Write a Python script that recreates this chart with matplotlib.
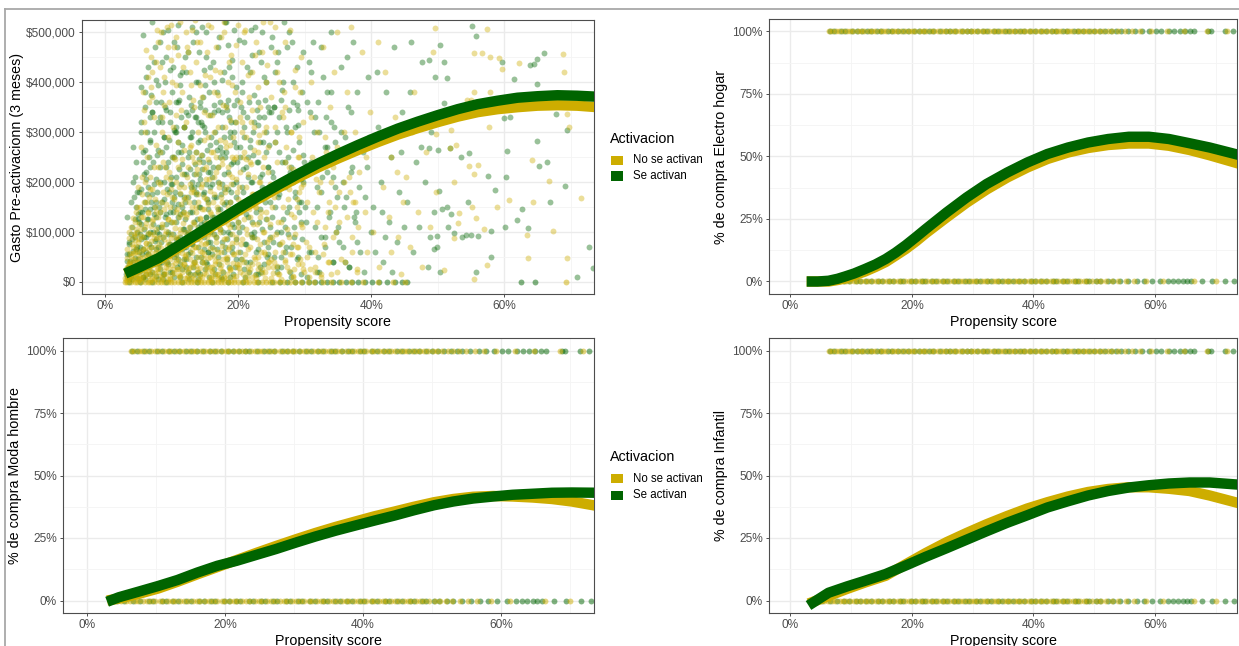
"""Propensity score vs. pre-activation spend and purchase rates, by activation group."""

import matplotlib

matplotlib.use("Agg")
import matplotlib.pyplot as plt
from matplotlib.lines import Line2D
from matplotlib.patches import Rectangle
from matplotlib.ticker import FuncFormatter, MultipleLocator

plt.rcParams["font.family"] = ["Liberation Sans", "DejaVu Sans"]

W, H = 1239, 646
YELLOW = "#CDAD00"
GREEN = "#006400"
GROUPS = ["No se activan", "Se activan"]

# ---- panel 1: gasto pre-activacion (x = propensity %, y = miles de $) ----
gasto_no = [
    (3.1, 4), (3.3, 18), (3.5, 9), (3.6, 35), (3.8, 22), (3.9, 52), (4.0, 11), (4.1, 70), (4.2, 30), (4.3, 95),
    (4.4, 6), (4.5, 44), (4.5, 120), (4.6, 15), (4.7, 62), (4.8, 28), (4.8, 150), (4.9, 80), (5.0, 3), (4.2, 58),
    (3.7, 40), (4.6, 105), (3.4, 27), (4.9, 190), (4.4, 83),
    (5.1, 14), (5.2, 48), (5.3, 92), (5.4, 130), (5.5, 7), (5.5, 210), (5.6, 35), (5.7, 65), (5.8, 160), (5.9, 22),
    (6.0, 300), (6.0, 110), (6.1, 42), (6.2, 78), (6.3, 250), (6.4, 12), (6.4, 140), (6.5, 55), (6.6, 360), (6.7, 95),
    (6.8, 28), (6.8, 185), (6.9, 70), (7.0, 420), (7.0, 122), (7.1, 8), (7.2, 50), (7.3, 230), (7.3, 88), (7.4, 330),
    (7.5, 18), (7.5, 150), (7.6, 60), (7.7, 275), (7.7, 105), (7.8, 38), (7.9, 480), (7.9, 200), (5.6, 380), (6.2, 465),
    (5.3, 270), (6.9, 390), (7.6, 440), (5.8, 320), (6.6, 170),
    (8.0, 20), (8.1, 75), (8.2, 140), (8.3, 260), (8.3, 45), (8.4, 500), (8.5, 110), (8.6, 10), (8.6, 330), (8.7, 180),
    (8.8, 62), (8.9, 410), (9.0, 95), (9.0, 230), (9.1, 30), (9.2, 155), (9.3, 510), (9.3, 72), (9.4, 290), (9.5, 5),
    (9.5, 125), (9.6, 360), (9.7, 52), (9.8, 205), (9.9, 445), (9.9, 88), (10.0, 16), (10.1, 170), (10.2, 310), (10.2, 60),
    (10.3, 120), (10.4, 470), (10.5, 38), (10.5, 245), (10.6, 90), (10.7, 395), (10.8, 145), (10.9, 25), (10.9, 280), (11.0, 68),
    (11.1, 190), (11.2, 520), (11.2, 105), (11.3, 12), (11.4, 345), (11.5, 57), (11.5, 215), (11.6, 135), (11.7, 430), (11.8, 80),
    (11.8, 265), (11.9, 35), (11.9, 165), (8.7, 380), (10.6, 490),
    (12.0, 48), (12.1, 130), (12.2, 320), (12.3, 8), (12.3, 210), (12.4, 85), (12.5, 460), (12.6, 160), (12.6, 28), (12.7, 270),
    (12.8, 100), (12.9, 395), (13.0, 58), (13.0, 185), (13.1, 505), (13.2, 14), (13.3, 240), (13.3, 115), (13.4, 350), (13.5, 70),
    (13.6, 150), (13.7, 440), (13.7, 32), (13.8, 225), (13.9, 92), (14.0, 300), (14.0, 175), (14.1, 5), (14.2, 125), (14.3, 480),
    (14.3, 62), (14.4, 255), (14.5, 195), (14.6, 40), (14.6, 370), (14.7, 108), (14.8, 285), (14.9, 18), (14.9, 145), (15.0, 415),
    (15.1, 78), (15.2, 230), (15.2, 165), (15.3, 25), (15.4, 335), (15.5, 95), (15.5, 515), (15.6, 205), (15.7, 50), (15.8, 140),
    (15.8, 410), (15.9, 260), (15.9, 10), (12.9, 180), (14.4, 75),
    (16.0, 30), (16.1, 120), (16.2, 260), (16.3, 65), (16.3, 380), (16.4, 175), (16.5, 12), (16.6, 220), (16.7, 90), (16.7, 470),
    (16.8, 150), (16.9, 42), (17.0, 310), (17.1, 198), (17.2, 8), (17.2, 105), (17.3, 420), (17.4, 60), (17.5, 245), (17.6, 160),
    (17.6, 22), (17.7, 355), (17.8, 85), (17.9, 500), (18.0, 135), (18.0, 280), (18.1, 48), (18.2, 190), (18.3, 15), (18.4, 400),
    (18.4, 115), (18.5, 230), (18.6, 70), (18.7, 325), (18.8, 160), (18.8, 28), (18.9, 455), (19.0, 95), (19.1, 210), (19.2, 55),
    (19.2, 290), (19.3, 140), (19.4, 5), (19.5, 380), (19.6, 80), (19.7, 250), (19.8, 180), (19.8, 35), (19.9, 515), (19.9, 120),
    (20.0, 60), (20.1, 190), (20.2, 330), (20.3, 20), (20.4, 140), (20.5, 440), (20.6, 85), (20.7, 250), (20.8, 40), (20.9, 160),
    (21.0, 505), (21.1, 105), (21.2, 290), (21.3, 10), (21.4, 215), (21.5, 65), (21.6, 370), (21.7, 130), (21.8, 25), (21.9, 235),
    (22.0, 420), (22.1, 90), (22.2, 175), (22.3, 50), (22.4, 310), (22.5, 150), (22.6, 8), (22.7, 480), (22.8, 115), (22.9, 260),
    (23.0, 35), (23.1, 200), (23.2, 350), (23.3, 75), (23.4, 140), (23.5, 460), (23.6, 18), (23.7, 230), (23.8, 100), (23.9, 300),
    (24.0, 55), (24.1, 170), (24.2, 400), (24.3, 125), (24.4, 30), (24.5, 270), (24.6, 85), (24.7, 195), (24.8, 520), (24.9, 45),
    (25.1, 150), (25.3, 40), (25.5, 280), (25.7, 95), (25.9, 420), (26.0, 15), (26.2, 200), (26.4, 120), (26.6, 340), (26.8, 60),
    (27.0, 240), (27.1, 480), (27.3, 30), (27.5, 165), (27.7, 90), (27.9, 300), (28.0, 210), (28.2, 10), (28.4, 130), (28.6, 390),
    (28.8, 70), (29.0, 250), (29.1, 180), (29.3, 45), (29.5, 450), (29.6, 110), (29.8, 320), (29.9, 20), (25.6, 510), (26.9, 380),
    (28.1, 55), (28.9, 150), (27.6, 230), (26.3, 75), (29.4, 190),
    (30.2, 80), (30.5, 230), (30.8, 25), (31.0, 400), (31.3, 140), (31.6, 60), (31.9, 300), (32.1, 180), (32.4, 10), (32.7, 470),
    (33.0, 110), (33.2, 260), (33.5, 40), (33.8, 350), (34.0, 200), (34.3, 90), (34.6, 150), (34.9, 500), (30.9, 330), (31.7, 205),
    (32.9, 75), (33.6, 160), (34.4, 420), (30.4, 50), (34.8, 270),
    (35.2, 120), (35.6, 260), (36.0, 40), (36.4, 380), (36.8, 180), (37.1, 90), (37.5, 300), (37.9, 20), (38.2, 220), (38.6, 460),
    (39.0, 140), (39.4, 60), (39.8, 340), (35.9, 200), (36.9, 510), (38.0, 110), (39.2, 250), (37.3, 160),
    (40.3, 100), (40.8, 280), (41.2, 30), (41.7, 190), (42.1, 420), (42.6, 130), (43.0, 60), (43.5, 330), (43.9, 220), (44.4, 15),
    (44.8, 160), (41.0, 480), (42.9, 250), (44.0, 90),
    (45.3, 210), (45.9, 70), (46.5, 380), (47.0, 140), (47.6, 30), (48.2, 260), (48.8, 110), (49.3, 460), (49.8, 180), (46.2, 300),
    (49.6, 509), (57.4, 506), (55.5, 458), (56.7, 458), (57.8, 451), (59.2, 448), (59.6, 426), (62.2, 438), (68.9, 457), (69.0, 420),
    (69.8, 311), (69.5, 336), (55.4, 380), (57.8, 380), (55.0, 364), (54.4, 364), (57.7, 311), (52.0, 304), (49.7, 297), (52.7, 274),
    (51.9, 269), (64.2, 244), (56.0, 233), (54.7, 231), (55.5, 215), (52.5, 200), (66.7, 202), (71.6, 168), (64.4, 160), (60.7, 164),
    (58.9, 149), (55.2, 149), (55.7, 127), (56.9, 105), (53.0, 117), (53.2, 137), (67.4, 102), (63.4, 94), (52.5, 87), (63.5, 47),
    (69.4, 48), (57.4, 33), (51.0, 23), (55.4, 5),
]
# nucleo denso de gasto bajo, "No se activan"
nucleo_no = [
    (3.0, 8), (3.1, 25), (3.2, 47), (3.2, 14), (3.3, 66), (3.4, 5), (3.5, 38), (3.5, 88), (3.6, 20), (3.7, 57),
    (3.8, 110), (3.8, 3), (3.9, 32), (4.0, 75), (4.1, 16), (4.1, 128), (4.2, 45), (4.3, 92), (4.3, 9), (4.4, 60),
    (4.5, 26), (4.6, 140), (4.6, 72), (4.7, 36), (4.8, 12), (4.8, 98), (4.9, 54), (5.0, 115), (4.0, 35), (3.6, 100),
    (5.0, 40), (5.1, 85), (5.1, 6), (5.2, 150), (5.3, 28), (5.3, 62), (5.4, 105), (5.5, 18), (5.5, 175), (5.6, 50),
    (5.7, 90), (5.7, 130), (5.8, 9), (5.9, 68), (5.9, 200), (6.0, 33), (6.1, 118), (6.1, 78), (6.2, 15), (6.3, 52),
    (6.3, 160), (6.4, 98), (6.5, 24), (6.5, 138), (6.6, 66), (6.7, 4), (6.7, 210), (6.8, 44), (6.9, 112), (6.9, 82),
    (7.0, 20), (7.1, 57), (7.1, 185), (7.2, 125), (7.3, 36), (7.3, 96), (7.4, 10), (7.5, 70), (7.5, 165), (7.6, 48),
    (7.7, 140), (7.8, 26), (7.8, 88), (7.9, 60), (7.9, 230),
    (8.0, 45), (8.0, 130), (8.1, 12), (8.2, 90), (8.2, 195), (8.3, 30), (8.4, 68), (8.4, 160), (8.5, 5), (8.6, 115),
    (8.6, 52), (8.7, 240), (8.8, 22), (8.8, 85), (8.9, 145), (9.0, 38), (9.1, 102), (9.1, 210), (9.2, 15), (9.3, 58),
    (9.3, 175), (9.4, 125), (9.5, 80), (9.5, 28), (9.6, 220), (9.7, 46), (9.7, 150), (9.8, 8), (9.9, 95), (9.9, 185),
    (10.0, 62), (10.1, 120), (10.1, 33), (10.2, 250), (10.3, 75), (10.3, 165), (10.4, 18), (10.5, 108), (10.6, 50), (10.6, 200),
    (10.7, 140), (10.8, 25), (10.8, 88), (10.9, 230), (11.0, 60), (11.1, 130), (11.1, 10), (11.2, 178), (11.3, 42), (11.3, 98),
    (11.4, 155), (11.5, 20), (11.6, 72), (11.6, 245), (11.7, 118), (11.8, 35), (11.8, 190), (11.9, 82), (11.9, 140), (12.0, 8),
    (12.0, 100), (12.1, 55), (12.2, 170), (12.2, 25), (12.3, 135), (12.4, 78), (12.5, 230), (12.5, 12), (12.6, 110), (12.7, 45),
    (12.8, 195), (12.8, 88), (12.9, 30), (13.0, 150), (13.1, 65), (13.1, 250), (13.2, 120), (13.3, 5), (13.4, 92), (13.4, 180),
    (13.5, 40), (13.6, 140), (13.7, 70), (13.7, 215), (13.8, 18), (13.9, 105), (14.0, 160), (14.0, 50), (14.1, 240), (14.2, 85),
    (14.3, 128), (14.3, 28), (14.4, 190), (14.5, 60), (14.6, 145), (14.6, 10), (14.7, 100), (14.8, 225), (14.9, 38), (14.9, 170),
    (15.0, 75), (15.1, 118), (15.2, 15), (15.2, 205), (15.3, 90), (15.4, 48), (15.4, 155), (15.5, 245), (15.6, 120), (15.7, 30),
    (15.7, 182), (15.8, 68), (15.9, 135), (15.9, 8), (13.6, 260), (14.8, 55), (12.9, 275), (15.5, 290), (13.2, 35), (14.4, 95),
    (16.0, 95), (16.1, 20), (16.2, 160), (16.3, 52), (16.4, 210), (16.5, 125), (16.5, 35), (16.6, 80), (16.7, 250), (16.8, 15),
    (16.9, 140), (17.0, 60), (17.1, 190), (17.2, 100), (17.3, 28), (17.4, 170), (17.5, 72), (17.6, 235), (17.7, 45), (17.8, 120),
    (17.9, 10), (18.0, 180), (18.1, 88), (18.2, 270), (18.3, 40), (18.4, 150), (18.5, 65), (18.6, 215), (18.7, 110), (18.8, 25),
    (18.9, 195), (19.0, 78), (19.1, 145), (19.2, 12), (19.3, 245), (19.4, 55), (19.5, 130), (19.6, 90), (19.7, 205), (19.8, 30),
    (19.9, 165), (16.4, 300), (17.2, 285), (18.0, 310), (18.8, 275), (19.6, 320), (17.0, 5), (18.5, 5), (16.9, 230), (19.0, 250),
    (20.0, 110), (20.1, 35), (20.3, 220), (20.4, 75), (20.5, 160), (20.7, 15), (20.8, 125), (20.9, 260), (21.0, 55), (21.2, 190),
    (21.3, 95), (21.4, 30), (21.6, 145), (21.7, 240), (21.8, 70), (22.0, 175), (22.1, 10), (22.2, 115), (22.4, 210), (22.5, 45),
    (22.6, 150), (22.8, 85), (22.9, 280), (23.0, 25), (23.2, 130), (23.3, 200), (23.4, 60), (23.6, 165), (23.7, 100), (23.8, 250),
    (24.0, 20), (24.1, 140), (24.3, 80), (24.4, 220), (24.5, 40), (24.7, 185), (24.8, 115), (24.9, 8), (20.6, 300), (21.9, 320),
    (23.1, 295), (24.2, 310), (22.3, 265), (21.1, 245), (23.9, 60),
    (25.0, 90), (25.2, 30), (25.4, 170), (25.6, 60), (25.8, 240), (26.0, 120), (26.2, 15), (26.4, 200), (26.6, 80), (26.8, 150),
    (27.0, 40), (27.2, 270), (27.4, 105), (27.6, 185), (27.8, 55), (28.0, 135), (28.2, 225), (28.4, 25), (28.6, 95), (28.8, 165),
    (29.0, 70), (29.2, 250), (29.4, 115), (29.6, 35), (29.8, 195), (25.5, 310), (26.7, 330), (27.9, 300), (29.1, 290), (28.3, 75),
    (30.3, 160), (30.7, 70), (31.1, 250), (31.5, 20), (31.9, 120), (32.3, 200), (32.7, 55), (33.1, 290), (33.5, 140), (33.9, 15),
    (34.3, 230), (34.7, 100), (35.1, 180), (35.5, 45), (35.9, 300), (36.3, 130), (36.7, 210), (37.1, 60), (37.5, 160), (37.9, 25),
]
# franja de gasto muy bajo, "No se activan"
bajo_no = [
    (3.2, 30), (3.7, 12), (4.2, 22), (4.7, 40), (5.2, 8), (5.7, 26), (6.2, 45), (6.6, 18), (7.0, 35), (7.5, 5),
    (7.9, 28), (8.4, 48), (8.8, 15), (9.3, 38), (9.7, 6), (10.2, 25), (10.6, 44), (11.1, 14), (11.5, 32), (12.0, 52),
    (12.4, 20), (12.9, 8), (13.3, 40), (13.8, 25), (14.2, 12), (14.7, 48), (15.1, 30), (15.6, 5), (16.0, 22), (16.5, 42),
    (16.9, 15), (17.4, 34), (17.8, 8), (18.3, 50), (18.7, 24), (19.2, 38), (19.6, 12), (20.1, 28), (20.6, 45), (21.0, 6),
    (21.5, 20), (22.0, 36), (22.5, 14), (23.0, 50), (23.5, 26), (24.0, 8), (24.6, 40), (25.2, 18), (25.8, 32), (26.4, 6),
    (27.0, 44), (27.6, 22), (28.3, 12), (29.0, 36), (29.8, 25), (30.6, 10), (31.5, 30), (32.5, 15), (33.6, 40), (34.8, 20),
]
# zona alta (gasto > $300,000), "No se activan"
alto_no = [
    (5.8, 345), (6.4, 410), (7.1, 370), (7.8, 505), (8.2, 430), (8.9, 355), (9.4, 470), (10.0, 400), (10.6, 335), (11.0, 455),
    (11.5, 380), (12.1, 500), (12.7, 420), (13.2, 365), (13.8, 480), (14.2, 395), (14.9, 340), (15.3, 460), (15.9, 510), (16.5, 425),
    (17.0, 375), (17.4, 490), (18.1, 350), (18.6, 440), (19.1, 395), (19.7, 475), (20.2, 360), (20.8, 500), (21.4, 415), (22.0, 345),
    (22.5, 455), (23.0, 390), (23.7, 520), (24.3, 435), (24.9, 370), (25.6, 460), (26.2, 400), (27.0, 350), (27.8, 505), (28.5, 425),
    (29.3, 380), (9.9, 515), (13.5, 525), (17.9, 520), (11.8, 310), (16.1, 335), (20.5, 320), (8.6, 300), (6.9, 450), (12.3, 470),
]
gasto_si = [
    (3.2, 10), (3.4, 30), (3.6, 55), (3.8, 15), (4.0, 85), (4.1, 40), (4.3, 20), (4.4, 125), (4.6, 65), (4.7, 8),
    (4.8, 100), (4.9, 45), (3.9, 160), (4.5, 210), (3.5, 75), (4.2, 270), (4.7, 180), (3.3, 42), (4.0, 5), (4.9, 135),
    (5.0, 25), (5.1, 180), (5.2, 70), (5.3, 390), (5.4, 115), (5.5, 40), (5.6, 240), (5.7, 10), (5.8, 90), (5.9, 145),
    (6.0, 350), (6.1, 60), (6.2, 205), (6.3, 30), (6.4, 430), (6.5, 125), (6.6, 75), (6.7, 285), (6.8, 15), (6.9, 160),
    (7.0, 50), (7.1, 340), (7.2, 100), (7.3, 195), (7.4, 35), (7.5, 470), (7.6, 130), (7.7, 65), (7.8, 255), (7.9, 5),
    (5.4, 300), (6.1, 410), (6.9, 375), (7.7, 405), (5.9, 265), (7.3, 150), (6.4, 95), (5.2, 140), (6.7, 230), (7.9, 320),
    (5.7, 495), (7.0, 520), (6.3, 175), (5.5, 55), (7.6, 85),
    (8.0, 110), (8.1, 35), (8.2, 230), (8.3, 480), (8.4, 80), (8.5, 160), (8.6, 320), (8.7, 15), (8.8, 200), (8.9, 60),
    (9.0, 400), (9.1, 135), (9.2, 270), (9.3, 40), (9.4, 95), (9.5, 505), (9.6, 180), (9.7, 20), (9.8, 340), (9.9, 120),
    (10.0, 250), (10.1, 65), (10.2, 430), (10.3, 150), (10.4, 10), (10.5, 300), (10.6, 85), (10.7, 210), (10.8, 470), (10.9, 130),
    (11.0, 45), (11.1, 365), (11.2, 175), (11.3, 90), (11.4, 260), (11.5, 25), (11.6, 420), (11.7, 140), (11.8, 310), (11.9, 70),
    (8.4, 360), (9.2, 450), (10.0, 380), (11.0, 515), (8.9, 290), (9.9, 195), (10.7, 55), (11.5, 235), (8.2, 140), (9.6, 75),
    (10.4, 170), (11.3, 395), (8.6, 440), (10.9, 280), (11.8, 105),
    (12.0, 160), (12.1, 30), (12.2, 420), (12.3, 95), (12.4, 250), (12.5, 55), (12.6, 370), (12.7, 140), (12.8, 15), (12.9, 290),
    (13.0, 200), (13.1, 75), (13.2, 480), (13.3, 120), (13.4, 40), (13.5, 330), (13.6, 175), (13.7, 260), (13.8, 85), (13.9, 400),
    (14.0, 20), (14.1, 215), (14.2, 150), (14.3, 350), (14.4, 50), (14.5, 510), (14.6, 100), (14.7, 240), (14.8, 180), (14.9, 65),
    (15.0, 300), (15.1, 130), (15.2, 450), (15.3, 35), (15.4, 220), (15.5, 160), (15.6, 380), (15.7, 80), (15.8, 275), (15.9, 115),
    (12.4, 460), (13.0, 345), (13.6, 500), (14.2, 285), (14.8, 425), (15.4, 60), (12.8, 225), (13.4, 190), (14.0, 110), (15.0, 395),
    (15.8, 190), (12.2, 70), (14.6, 315), (13.9, 5), (15.6, 240),
    (16.0, 210), (16.1, 70), (16.2, 440), (16.3, 130), (16.4, 25), (16.5, 300), (16.6, 170), (16.7, 90), (16.8, 380), (16.9, 230),
    (17.0, 50), (17.1, 490), (17.2, 145), (17.3, 270), (17.4, 10), (17.5, 195), (17.6, 340), (17.7, 100), (17.8, 420), (17.9, 60),
    (18.0, 250), (18.1, 160), (18.2, 355), (18.3, 85), (18.4, 220), (18.5, 475), (18.6, 30), (18.7, 130), (18.8, 290), (18.9, 180),
    (19.0, 410), (19.1, 70), (19.2, 240), (19.3, 505), (19.4, 110), (19.5, 320), (19.6, 45), (19.7, 200), (19.8, 365), (19.9, 150),
    (16.4, 400), (17.0, 345), (17.6, 260), (18.2, 520), (18.8, 95), (19.4, 280), (16.8, 120), (17.8, 185), (18.6, 430), (19.2, 15),
    (20.1, 100), (20.2, 270), (20.4, 45), (20.5, 380), (20.7, 180), (20.8, 480), (21.0, 75), (21.1, 230), (21.3, 330), (21.4, 130),
    (21.6, 20), (21.7, 420), (21.9, 200), (22.0, 90), (22.2, 300), (22.3, 160), (22.5, 510), (22.6, 60), (22.8, 240), (22.9, 360),
    (23.1, 120), (23.2, 30), (23.4, 440), (23.5, 190), (23.7, 280), (23.8, 80), (24.0, 160), (24.1, 400), (24.3, 50), (24.4, 230),
    (24.6, 340), (24.7, 110), (24.9, 470), (20.3, 150), (20.9, 310), (21.5, 250), (22.1, 455), (22.7, 140), (23.3, 210), (23.9, 330),
    (24.5, 70), (21.2, 40), (22.4, 100), (23.6, 500), (24.8, 190), (20.6, 400), (21.8, 285), (23.0, 15), (24.2, 260), (22.9, 175),
    (25.0, 220), (25.2, 80), (25.4, 350), (25.6, 150), (25.8, 30), (26.0, 460), (26.2, 260), (26.4, 100), (26.6, 190), (26.8, 400),
    (27.0, 60), (27.2, 310), (27.4, 140), (27.6, 500), (27.8, 20), (28.0, 230), (28.2, 360), (28.4, 90), (28.6, 170), (28.8, 430),
    (29.0, 50), (29.2, 280), (29.4, 120), (29.6, 380), (29.8, 200), (25.5, 420), (26.5, 50), (27.5, 250), (28.5, 310), (29.5, 15),
    (26.1, 175), (27.1, 110), (28.1, 480), (29.1, 160), (25.9, 300), (27.9, 70), (29.9, 240), (26.9, 520),
    (30.1, 150), (30.4, 360), (30.7, 60), (31.0, 240), (31.3, 480), (31.6, 110), (31.9, 20), (32.2, 300), (32.5, 180), (32.8, 410),
    (33.1, 70), (33.4, 220), (33.7, 130), (34.0, 500), (34.3, 40), (34.6, 280), (34.9, 170), (30.6, 440), (31.5, 330), (32.4, 90),
    (33.3, 380), (34.2, 210), (30.3, 10), (31.8, 190), (33.0, 270), (34.7, 100), (32.0, 50), (33.9, 320),
    (35.1, 80), (35.5, 300), (35.9, 150), (36.3, 450), (36.7, 30), (37.1, 230), (37.5, 120), (37.9, 380), (38.3, 60), (38.7, 260),
    (39.1, 170), (39.5, 410), (39.9, 100), (35.7, 200), (36.5, 350), (37.3, 480), (38.1, 190), (38.9, 20), (39.7, 290), (36.1, 40),
    (37.7, 140), (39.3, 230),
    (40.2, 150), (40.6, 60), (41.0, 310), (41.4, 200), (41.8, 40), (42.2, 380), (42.6, 120), (43.0, 250), (43.4, 470), (43.8, 80),
    (44.2, 180), (44.6, 340), (45.0, 110), (40.9, 420), (42.0, 90), (43.1, 20), (44.4, 260), (41.6, 140),
    (45.4, 160), (45.8, 380), (46.3, 60), (46.8, 240), (47.2, 110), (47.7, 440), (48.1, 200), (48.6, 30), (49.0, 300), (49.4, 140),
    (49.9, 70), (46.0, 480), (47.5, 270), (48.9, 90),
    (55.1, 513), (55.8, 493), (50.3, 474), (48.7, 444), (50.9, 441), (51.4, 409), (49.6, 410), (66.0, 458), (64.9, 447), (63.8, 434),
    (64.5, 436), (59.6, 440), (61.5, 406), (65.0, 396), (67.8, 337), (60.9, 331), (59.9, 329), (69.4, 305), (51.0, 359), (65.0, 283),
    (60.4, 262), (48.7, 269), (50.0, 264), (51.8, 269), (53.5, 251), (54.7, 259), (57.5, 211), (58.6, 184), (54.6, 160), (60.2, 209),
    (65.2, 231), (66.4, 239), (69.2, 192), (66.9, 160), (62.7, 145), (61.9, 124), (63.5, 107), (60.1, 109), (58.0, 102), (56.0, 92),
    (55.0, 94), (54.3, 94), (53.6, 90), (52.4, 98), (51.6, 110), (52.0, 136), (50.6, 145), (51.4, 149), (50.2, 182), (49.9, 91),
    (49.5, 66), (58.0, 49), (55.8, 19), (50.4, 20), (71.0, 10), (72.8, 70), (73.4, 27),
]
# nucleo denso de gasto bajo, "Se activan"
nucleo_si = [
    (3.1, 15), (3.3, 55), (3.4, 28), (3.6, 80), (3.7, 42), (3.9, 12), (4.0, 110), (4.1, 62), (4.2, 25), (4.4, 90),
    (4.5, 48), (4.6, 150), (4.7, 20), (4.8, 70), (4.9, 125), (5.0, 35), (3.5, 5), (4.3, 170), (3.8, 95), (4.6, 240),
    (4.2, 200), (3.3, 130),
    (5.0, 60), (5.1, 120), (5.2, 22), (5.3, 185), (5.4, 85), (5.5, 140), (5.6, 10), (5.6, 65), (5.7, 260), (5.8, 105),
    (5.9, 40), (6.0, 160), (6.1, 90), (6.2, 220), (6.2, 15), (6.3, 125), (6.4, 55), (6.5, 190), (6.6, 30), (6.7, 100),
    (6.8, 145), (6.8, 280), (6.9, 70), (7.0, 20), (7.1, 175), (7.2, 115), (7.2, 240), (7.3, 48), (7.4, 135), (7.5, 82),
    (7.6, 205), (7.6, 12), (7.7, 160), (7.8, 100), (7.9, 38), (7.9, 265), (5.4, 320), (6.3, 300), (7.0, 340), (5.8, 215),
    (6.6, 250), (7.4, 300), (5.2, 95), (6.0, 5), (7.8, 180),
    (8.0, 70), (8.1, 150), (8.2, 25), (8.3, 200), (8.4, 110), (8.5, 40), (8.6, 260), (8.7, 90), (8.8, 165), (8.9, 15),
    (9.0, 130), (9.1, 230), (9.2, 60), (9.3, 185), (9.4, 100), (9.5, 35), (9.6, 285), (9.7, 140), (9.8, 75), (9.9, 210),
    (10.0, 20), (10.1, 160), (10.2, 95), (10.3, 250), (10.4, 50), (10.5, 180), (10.6, 120), (10.7, 300), (10.8, 30), (10.9, 155),
    (11.0, 85), (11.1, 225), (11.2, 10), (11.3, 135), (11.4, 195), (11.5, 65), (11.6, 275), (11.7, 105), (11.8, 170), (11.9, 45),
    (8.3, 330), (9.0, 350), (9.8, 320), (10.6, 360), (11.4, 330), (8.7, 5), (9.4, 240), (10.2, 140), (11.0, 260), (11.8, 215),
    (8.1, 95), (9.2, 115), (10.0, 195), (10.9, 75), (11.6, 150), (8.9, 290), (9.7, 55), (10.4, 305), (11.3, 35), (11.9, 310),
    (12.0, 125), (12.1, 45), (12.2, 215), (12.3, 85), (12.4, 170), (12.5, 20), (12.6, 260), (12.7, 110), (12.8, 60), (12.9, 190),
    (13.0, 140), (13.1, 300), (13.2, 30), (13.3, 160), (13.4, 95), (13.5, 235), (13.6, 50), (13.7, 180), (13.8, 125), (13.9, 280),
    (14.0, 70), (14.1, 150), (14.2, 15), (14.3, 205), (14.4, 115), (14.5, 255), (14.6, 40), (14.7, 175), (14.8, 90), (14.9, 310),
    (15.0, 25), (15.1, 195), (15.2, 130), (15.3, 265), (15.4, 80), (15.5, 145), (15.6, 10), (15.7, 220), (15.8, 100), (15.9, 290),
    (12.2, 340), (12.9, 355), (13.6, 330), (14.3, 360), (15.0, 345), (15.7, 335), (12.6, 5), (13.4, 215), (14.1, 245), (14.9, 120),
    (15.5, 60), (12.4, 100), (13.1, 75), (13.9, 195), (14.6, 225), (15.3, 165), (12.8, 290), (14.0, 320), (15.2, 40), (13.5, 15),
    (16.0, 130), (16.1, 55), (16.2, 230), (16.3, 95), (16.4, 170), (16.5, 15), (16.6, 280), (16.7, 120), (16.8, 65), (16.9, 200),
    (17.0, 145), (17.1, 35), (17.2, 250), (17.3, 105), (17.4, 175), (17.5, 80), (17.6, 310), (17.7, 20), (17.8, 155), (17.9, 215),
    (18.0, 70), (18.1, 125), (18.2, 260), (18.3, 45), (18.4, 185), (18.5, 100), (18.6, 330), (18.7, 160), (18.8, 10), (18.9, 235),
    (19.0, 115), (19.1, 60), (19.2, 195), (19.3, 140), (19.4, 300), (19.5, 30), (19.6, 170), (19.7, 85), (19.8, 240), (19.9, 120),
    (16.3, 340), (17.3, 360), (18.3, 345), (19.3, 355), (16.8, 265), (17.9, 290), (18.9, 320), (17.5, 5), (16.1, 195), (19.6, 270),
    (20.0, 150), (20.2, 60), (20.3, 250), (20.5, 110), (20.6, 190), (20.8, 25), (20.9, 290), (21.1, 135), (21.2, 75), (21.4, 210),
    (21.5, 165), (21.7, 40), (21.8, 270), (22.0, 120), (22.1, 200), (22.3, 90), (22.4, 320), (22.6, 15), (22.7, 175), (22.9, 240),
    (23.0, 65), (23.2, 145), (23.3, 280), (23.5, 105), (23.6, 215), (23.8, 35), (23.9, 185), (24.1, 300), (24.2, 125), (24.4, 55),
    (24.5, 230), (24.7, 160), (24.8, 90), (24.9, 340), (20.4, 350), (21.6, 360), (22.8, 345), (24.0, 365), (21.0, 10), (22.2, 255),
    (23.4, 20), (24.6, 275), (20.7, 225), (21.9, 95), (23.1, 330),
    (25.0, 130), (25.2, 210), (25.4, 50), (25.6, 280), (25.8, 100), (26.0, 170), (26.2, 330), (26.4, 30), (26.6, 240), (26.8, 125),
    (27.0, 190), (27.2, 70), (27.4, 300), (27.6, 150), (27.8, 220), (28.0, 10), (28.2, 265), (28.4, 110), (28.6, 180), (28.8, 45),
    (29.0, 315), (29.2, 140), (29.4, 205), (29.6, 85), (29.8, 255), (25.3, 350), (26.5, 365), (27.7, 345), (28.9, 355), (25.9, 20),
    (27.1, 240), (28.3, 200), (29.5, 160), (26.1, 75), (27.5, 95),
    (30.2, 120), (30.6, 230), (31.0, 60), (31.4, 300), (31.8, 150), (32.2, 20), (32.6, 210), (33.0, 90), (33.4, 270), (33.8, 140),
    (34.2, 40), (34.6, 190), (35.0, 110), (35.4, 250), (35.8, 70), (36.2, 170), (36.6, 30), (37.0, 220), (37.4, 130), (37.8, 80),
    (30.8, 340), (32.0, 360), (33.2, 330), (34.4, 310), (36.0, 290),
]
# zona alta (gasto > $300,000), "Se activan"
alto_si = [
    (6.0, 380), (6.7, 330), (7.4, 440), (8.0, 395), (8.7, 500), (9.1, 345), (9.7, 425), (10.3, 480), (10.9, 360), (11.3, 415),
    (12.0, 450), (12.5, 335), (13.0, 510), (13.6, 400), (14.1, 460), (14.7, 370), (15.2, 500), (15.8, 430), (16.3, 355), (16.9, 470),
    (17.5, 405), (18.0, 520), (18.5, 365), (19.0, 445), (19.6, 390), (20.1, 485), (20.7, 340), (21.3, 430), (21.9, 505), (22.4, 375),
    (23.1, 460), (23.8, 410), (24.5, 350), (25.1, 490), (25.8, 440), (26.6, 385), (27.4, 470), (28.2, 400), (29.0, 345), (29.7, 460),
    (31.0, 420), (32.5, 470), (34.0, 380), (35.5, 430), (37.0, 340), (10.6, 310), (14.4, 320), (18.8, 300), (7.7, 360), (22.9, 315),
]
# clientes con gasto 0 (propensity %)
gasto_cero_no = [2.9, 3.3, 3.8, 4.4, 4.8, 5.3, 5.9, 6.4, 6.8, 7.3, 7.9, 8.4, 8.8, 9.4, 9.9, 10.3, 10.9, 11.4,
                 11.8, 12.4, 12.9, 13.3, 13.9, 14.4, 14.8, 15.4, 15.9, 16.3, 16.9, 17.4, 17.8, 18.4, 18.9, 19.4,
                 19.9, 20.5, 21.1, 21.6, 22.3, 22.8, 23.5, 24.1, 24.7, 25.4, 26.2, 26.9, 27.8, 28.6, 29.5, 30.5,
                 31.4, 32.7, 33.9, 35.4, 37.0, 38.8, 41.0, 43.2, 45.1, 69.3]
gasto_cero_si = [3.5, 5.2, 7.0, 9.1, 11.5, 13.8, 16.0, 18.5, 20.7, 23.0, 25.1, 26.3, 27.4, 28.5, 29.6, 30.6,
                 31.5, 32.5, 33.4, 34.3, 35.2, 36.2, 37.1, 38.0, 39.0, 40.1, 41.2, 42.3, 43.5, 44.6, 45.4, 62.5, 64.6]

# curvas suavizadas del gasto (miles de $)
curva_x = [3, 5, 8, 11, 14, 17, 20, 23, 26, 29, 32, 35, 38, 41, 44, 47, 50, 53, 56, 59, 62, 65, 68, 71, 74]
gasto_curva_no = [15, 26, 44, 68, 93, 118, 142, 166, 188, 209, 229, 247, 264, 280, 295, 308, 320, 331, 340,
                  346, 350, 353, 354, 353, 350]
gasto_curva_si = [16, 28, 47, 72, 97, 122, 147, 171, 194, 216, 237, 256, 274, 291, 307, 321, 334, 346, 356,
                  363, 369, 372, 374, 373, 371]

# ---- paneles de compra: propensity % de clientes con compra (100%) y sin compra (0%) ----
compra_no = [6.3, 6.8, 7.5, 8.0, 8.6, 9.3, 9.9, 10.4, 11.1, 11.7, 12.2, 12.9, 13.5, 14.0, 14.7, 15.3, 15.8,
             16.5, 17.1, 17.6, 18.3, 18.9, 19.5, 20.1, 20.6, 21.3, 21.9, 22.4, 23.1, 23.7, 24.3, 24.9, 25.4,
             26.1, 26.7, 27.2, 27.9, 28.5, 29.1, 29.7, 30.2, 30.9, 31.5, 32.0, 32.7, 33.3, 33.9, 34.5, 35.0,
             35.7, 36.3, 36.8, 37.5, 38.1, 38.7, 39.3, 39.8, 40.5, 41.1, 41.6, 42.3, 42.9, 43.5, 44.1, 44.6,
             45.3, 45.9, 46.4, 47.1, 47.7, 48.3, 48.9, 49.4, 50.1, 50.8, 51.5, 52.3, 53.0, 53.9, 55.0, 56.2,
             57.6, 59.3, 62.0, 64.8, 68.5, 71.9]
compra_si = [6.5, 7.2, 8.3, 9.0, 10.1, 10.9, 11.8, 12.6, 13.3, 14.3, 15.0, 16.0, 16.8, 17.8, 18.6, 19.4,
             20.4, 21.1, 22.0, 22.9, 23.5, 24.6, 25.6, 26.3, 27.1, 28.2, 29.0, 29.8, 30.7, 31.7, 32.4, 33.5,
             34.2, 35.3, 36.0, 36.9, 37.8, 38.4, 39.5, 40.2, 41.3, 42.0, 43.1, 43.8, 44.9, 45.6, 46.7, 47.4,
             48.1, 49.2, 50.0, 50.9, 51.8, 52.7, 53.6, 54.4, 55.5, 56.8, 57.9, 59.0, 60.1, 61.0, 62.3, 63.2,
             64.1, 65.0, 65.8, 66.5, 68.8, 69.3, 71.5, 72.8]
sin_compra_no = [4.1, 4.9, 5.6, 6.2, 6.9, 7.4, 8.1, 8.7, 9.2, 9.9, 10.5, 11.0, 11.7, 12.3, 12.8, 13.5, 14.1,
                 14.6, 15.3, 15.9, 16.4, 17.1, 17.7, 18.2, 18.9, 19.5, 20.0, 20.7, 21.3, 21.8, 22.5, 23.1,
                 23.6, 24.3, 24.9, 25.4, 26.1, 26.7, 27.2, 27.9, 28.5, 29.0, 29.7, 30.3, 30.8, 31.5, 32.1,
                 32.6, 33.3, 33.9, 34.4, 35.1, 35.7, 36.2, 36.9, 37.5, 38.0, 38.7, 39.3, 39.8, 40.5, 41.1,
                 41.6, 42.3, 42.9, 43.4, 44.1, 44.7, 45.2, 45.9, 46.5, 47.0, 47.7, 48.3, 48.8, 49.6, 50.4,
                 51.1, 52.0, 52.9, 54.0, 55.2, 56.6, 58.5, 61.3, 66.4, 70.0]
sin_compra_si = [4.3, 5.3, 6.6, 7.7, 8.9, 9.6, 10.8, 11.4, 12.5, 13.2, 14.4, 15.1, 16.2, 16.9, 18.0, 18.6,
                 19.8, 20.5, 21.6, 22.2, 23.4, 24.0, 25.2, 25.8, 26.9, 27.6, 28.8, 29.4, 30.6, 31.2, 32.3,
                 33.0, 34.2, 34.8, 35.9, 36.6, 37.7, 38.4, 39.6, 40.2, 41.3, 42.0, 43.2, 43.8, 44.9, 45.6,
                 46.8, 47.4, 48.6, 49.2, 50.3, 51.0, 52.2, 53.1, 54.3, 55.6, 57.0, 58.2, 59.5, 60.9, 62.2,
                 63.0, 63.8, 64.6, 65.3, 66.0, 67.7, 69.4, 71.6, 73.0]

# curvas suavizadas de % de compra
electro_x = [2.7, 4.5, 6.3, 7.8, 9, 10.5, 12.3, 14, 15.7, 17.3, 19, 20.7, 22.3, 25.7, 29, 32.3, 35.7, 39,
             42.3, 45.7, 49, 52.3, 55.7, 59, 62.3, 65.7, 69, 74]
electro_no = [0, 0, 0, 0.6, 1.3, 2.5, 4, 5.8, 7.8, 10.3, 13, 16.1, 19.3, 25.6, 31.5, 36.8, 41.6, 45.6, 49,
              51.6, 53.4, 54.6, 55.2, 55.2, 54.3, 52.6, 50.5, 47]
electro_si = [0, 0, 0.3, 1.1, 2.0, 3.2, 5, 6.8, 9, 11.5, 14.5, 17.8, 21, 27.6, 33.6, 39, 43.6, 47.6, 51,
              53.6, 55.6, 57, 57.9, 57.9, 57, 55.3, 53.6, 50.5]

moda_x = [2.9, 4.6, 7.4, 10.3, 13.1, 16, 18.9, 21.7, 24.6, 27.4, 30.3, 33.1, 36, 38.9, 41.7, 44.6, 47.4,
          50.3, 53.1, 56, 58.9, 61.7, 64.6, 67.4, 70.3, 74]
moda_no = [0, 0.8, 2.6, 4.8, 7.5, 10.5, 13.4, 16.2, 19.1, 21.8, 24.5, 27, 29.4, 31.6, 33.7, 35.6, 37.5,
           39.3, 40.6, 41.5, 41.8, 41.6, 41.2, 40.6, 39.6, 37.8]
moda_si = [-0.5, 1.3, 3.5, 5.8, 8.2, 11.2, 13.9, 15.9, 18.3, 20.6, 23.2, 25.6, 27.9, 30, 32, 34, 36.1,
           38.1, 39.6, 40.8, 41.6, 42.3, 42.7, 43.1, 43.2, 43.1]

infantil_x = [3, 6.3, 9.3, 12.3, 15.7, 19, 22.3, 25.7, 29, 32.3, 35.7, 39, 42.3, 45.7, 49, 52.3, 55.7, 59,
              62.3, 65.7, 69, 74]
infantil_no = [-1.2, 1.8, 4.6, 7.2, 9.9, 14.5, 19, 23.3, 27, 30.5, 33.8, 36.8, 39.3, 41.6, 43.4, 44.6,
               45.3, 45.3, 44.7, 43.8, 42, 38.8]
infantil_si = [-2, 3.1, 5.6, 7.9, 10.6, 14, 17.5, 20.9, 24.3, 27.7, 31.1, 34.1, 37.2, 39.7, 42, 43.8,
               45.2, 46.1, 46.8, 47.2, 47.2, 46.3]


def box(left, top, right, bottom):
    return [left / W, 1 - bottom / H, (right - left) / W, (bottom - top) / H]


def style(ax, ylabel, ylim, ymajor, yfmt, ylabelpad):
    ax.set_xlim(-3.5, 73.5)
    ax.set_ylim(*ylim)
    ax.xaxis.set_major_locator(MultipleLocator(20))
    ax.xaxis.set_minor_locator(MultipleLocator(10))
    ax.yaxis.set_major_locator(MultipleLocator(ymajor))
    ax.yaxis.set_minor_locator(MultipleLocator(ymajor / 2))
    ax.xaxis.set_major_formatter(FuncFormatter(lambda v, _: f"{v:.0f}%"))
    ax.yaxis.set_major_formatter(FuncFormatter(yfmt))
    ax.grid(which="major", color="#EBEBEB", linewidth=1.0)
    ax.grid(which="minor", color="#F4F4F4", linewidth=0.6)
    ax.set_axisbelow(True)
    for sp in ax.spines.values():
        sp.set_color("#4D4D4D")
        sp.set_linewidth(0.8)
    ax.tick_params(which="major", length=2.5, width=0.6, color="#333333",
                   labelsize=8.6, labelcolor="#4D4D4D", pad=2)
    ax.tick_params(which="minor", length=0)
    ax.set_xlabel("Propensity score", fontsize=10.3, labelpad=2)
    ax.set_ylabel(ylabel, fontsize=10.3, labelpad=ylabelpad)


def pct(v, _):
    return f"{v:.0f}%"


def money(v, _):
    return f"${v * 1000:,.0f}"


def draw_binary(ax, cx, cy_no, cy_si):
    # verdes primero, amarillos encima (como en el original)
    for xs, yv, col in [(compra_si, 100, GREEN), (sin_compra_si, 0, GREEN),
                        (compra_no, 100, YELLOW), (sin_compra_no, 0, YELLOW)]:
        ax.scatter(xs, [yv] * len(xs), s=18, color=col, alpha=0.5, linewidths=0, zorder=2)
    ax.plot(cx, cy_no, color=YELLOW, lw=7.5, solid_capstyle="butt", solid_joinstyle="round", zorder=3)
    ax.plot(cx, cy_si, color=GREEN, lw=7.5, solid_capstyle="butt", solid_joinstyle="round", zorder=4)


def draw_legend(fig, title_y, key_ys):
    fig.text(610 / W, 1 - title_y / H, "Activacion", fontsize=10.3, ha="left", va="center")
    for label, col, ky in zip(GROUPS, [YELLOW, GREEN], key_ys):
        fig.patches.append(Rectangle((611 / W, 1 - (ky + 4.5) / H), 12 / W, 9 / H,
                                     transform=fig.transFigure, color=col, lw=0))
        fig.text(633 / W, 1 - ky / H, label, fontsize=8.3, ha="left", va="center")


fig = plt.figure(figsize=(W / 100, H / 100), dpi=100)

# panel 1: gasto
ax1 = fig.add_axes(box(82, 20, 594, 294))
for sets, cero, col in [((gasto_si, nucleo_si, alto_si), gasto_cero_si, GREEN),
                        ((gasto_no, nucleo_no, bajo_no, alto_no), gasto_cero_no, YELLOW)]:
    for pts in sets:
        xs, ys = zip(*pts)
        ax1.scatter(xs, ys, s=18, color=col, alpha=0.4, linewidths=0, zorder=2)
    ax1.scatter(cero, [0] * len(cero), s=18, color=col, alpha=0.5, linewidths=0, zorder=2)
ax1.plot(curva_x, gasto_curva_no, color=YELLOW, lw=7.5, solid_capstyle="butt", solid_joinstyle="round", zorder=3)
ax1.plot(curva_x, gasto_curva_si, color=GREEN, lw=7.5, solid_capstyle="butt", solid_joinstyle="round", zorder=4)
style(ax1, "Gasto Pre-activacionn (3 meses)", (-25, 525), 100, money, 1.5)

# panel 2: electro hogar
ax2 = fig.add_axes(box(769, 19, 1237, 294))
draw_binary(ax2, electro_x, electro_no, electro_si)
style(ax2, "% de compra Electro hogar", (-5, 105), 25, pct, 3)

# panel 3: moda hombre
ax3 = fig.add_axes(box(63, 338, 594, 613))
draw_binary(ax3, moda_x, moda_no, moda_si)
style(ax3, "% de compra Moda hombre", (-5, 105), 25, pct, 3)

# panel 4: infantil
ax4 = fig.add_axes(box(769, 338, 1237, 613))
draw_binary(ax4, infantil_x, infantil_no, infantil_si)
style(ax4, "% de compra Infantil", (-5, 105), 25, pct, 3)

draw_legend(fig, 139, [160, 176])
draw_legend(fig, 457, [478.5, 495])

# marco de la captura
fig.lines.append(Line2D([5 / W, 1], [1 - 9 / H, 1 - 9 / H], transform=fig.transFigure,
                        color="#A8A8A8", lw=1.3))
fig.lines.append(Line2D([5 / W, 5 / W], [0, 1 - 9 / H], transform=fig.transFigure,
                        color="#A8A8A8", lw=1.3))

fig.savefig("out.png", dpi=100)
